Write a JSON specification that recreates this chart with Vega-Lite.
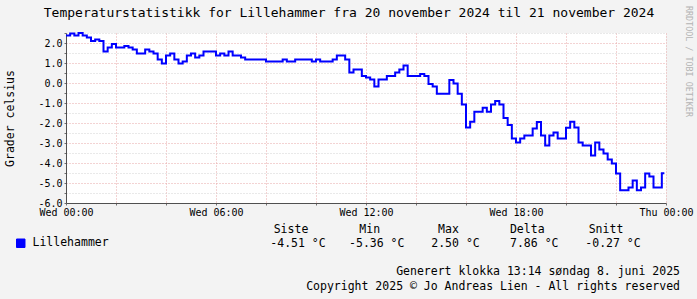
{
  "$schema": "https://vega.github.io/schema/vega-lite/v6.json",
  "background": "#f3f3f3",
  "padding": {"left": 4, "top": 5, "right": 3, "bottom": 7},
  "title": {
    "text": "Temperaturstatistikk for Lillehammer fra 20 november 2024 til 21 november 2024",
    "font": "DejaVu Sans Mono", "fontSize": 13, "fontWeight": "normal", "color": "#000000",
    "anchor": "middle", "offset": -14.5
  },
  "config": {"view": {"stroke": null}},
  "spacing": 6,
  "datasets": {
    "temp": [
      {"t":"2024-11-20T00:00:00Z","v":2.37},{"t":"2024-11-20T00:10:00Z","v":2.47},{"t":"2024-11-20T00:20:00Z","v":2.37},{"t":"2024-11-20T00:30:00Z","v":2.50},{"t":"2024-11-20T00:40:00Z","v":2.37},{"t":"2024-11-20T00:50:00Z","v":2.27},
      {"t":"2024-11-20T01:00:00Z","v":2.10},{"t":"2024-11-20T01:10:00Z","v":2.17},{"t":"2024-11-20T01:20:00Z","v":2.10},{"t":"2024-11-20T01:30:00Z","v":1.58},{"t":"2024-11-20T01:40:00Z","v":1.77},{"t":"2024-11-20T01:50:00Z","v":1.95},
      {"t":"2024-11-20T02:00:00Z","v":1.77},{"t":"2024-11-20T02:10:00Z","v":1.77},{"t":"2024-11-20T02:20:00Z","v":1.85},{"t":"2024-11-20T02:30:00Z","v":1.77},{"t":"2024-11-20T02:40:00Z","v":1.67},{"t":"2024-11-20T02:50:00Z","v":1.47},
      {"t":"2024-11-20T03:00:00Z","v":1.47},{"t":"2024-11-20T03:10:00Z","v":1.67},{"t":"2024-11-20T03:20:00Z","v":1.57},{"t":"2024-11-20T03:30:00Z","v":1.47},{"t":"2024-11-20T03:40:00Z","v":1.18},{"t":"2024-11-20T03:50:00Z","v":0.97},
      {"t":"2024-11-20T04:00:00Z","v":1.38},{"t":"2024-11-20T04:10:00Z","v":1.47},{"t":"2024-11-20T04:20:00Z","v":1.18},{"t":"2024-11-20T04:30:00Z","v":0.97},{"t":"2024-11-20T04:40:00Z","v":1.07},{"t":"2024-11-20T04:50:00Z","v":1.37},
      {"t":"2024-11-20T05:00:00Z","v":1.47},{"t":"2024-11-20T05:10:00Z","v":1.27},{"t":"2024-11-20T05:20:00Z","v":1.37},{"t":"2024-11-20T05:30:00Z","v":1.57},{"t":"2024-11-20T05:40:00Z","v":1.57},{"t":"2024-11-20T05:50:00Z","v":1.57},
      {"t":"2024-11-20T06:00:00Z","v":1.37},{"t":"2024-11-20T06:10:00Z","v":1.47},{"t":"2024-11-20T06:20:00Z","v":1.37},{"t":"2024-11-20T06:30:00Z","v":1.57},{"t":"2024-11-20T06:40:00Z","v":1.37},{"t":"2024-11-20T06:50:00Z","v":1.37},
      {"t":"2024-11-20T07:00:00Z","v":1.27},{"t":"2024-11-20T07:10:00Z","v":1.17},{"t":"2024-11-20T07:20:00Z","v":1.17},{"t":"2024-11-20T07:30:00Z","v":1.17},{"t":"2024-11-20T07:40:00Z","v":1.17},{"t":"2024-11-20T07:50:00Z","v":1.17},
      {"t":"2024-11-20T08:00:00Z","v":1.07},{"t":"2024-11-20T08:10:00Z","v":1.07},{"t":"2024-11-20T08:20:00Z","v":1.07},{"t":"2024-11-20T08:30:00Z","v":1.07},{"t":"2024-11-20T08:40:00Z","v":1.17},{"t":"2024-11-20T08:50:00Z","v":1.07},
      {"t":"2024-11-20T09:00:00Z","v":1.07},{"t":"2024-11-20T09:10:00Z","v":1.17},{"t":"2024-11-20T09:20:00Z","v":1.17},{"t":"2024-11-20T09:30:00Z","v":1.17},{"t":"2024-11-20T09:40:00Z","v":1.17},{"t":"2024-11-20T09:50:00Z","v":1.07},
      {"t":"2024-11-20T10:00:00Z","v":1.17},{"t":"2024-11-20T10:10:00Z","v":1.07},{"t":"2024-11-20T10:20:00Z","v":1.07},{"t":"2024-11-20T10:30:00Z","v":1.07},{"t":"2024-11-20T10:40:00Z","v":1.17},{"t":"2024-11-20T10:50:00Z","v":1.37},
      {"t":"2024-11-20T11:00:00Z","v":1.37},{"t":"2024-11-20T11:10:00Z","v":1.17},{"t":"2024-11-20T11:20:00Z","v":0.53},{"t":"2024-11-20T11:30:00Z","v":0.67},{"t":"2024-11-20T11:40:00Z","v":0.67},{"t":"2024-11-20T11:50:00Z","v":0.35},
      {"t":"2024-11-20T12:00:00Z","v":0.27},{"t":"2024-11-20T12:10:00Z","v":0.17},{"t":"2024-11-20T12:20:00Z","v":-0.18},{"t":"2024-11-20T12:30:00Z","v":0.17},{"t":"2024-11-20T12:40:00Z","v":0.17},{"t":"2024-11-20T12:50:00Z","v":0.35},
      {"t":"2024-11-20T13:00:00Z","v":0.35},{"t":"2024-11-20T13:10:00Z","v":0.53},{"t":"2024-11-20T13:20:00Z","v":0.67},{"t":"2024-11-20T13:30:00Z","v":0.87},{"t":"2024-11-20T13:40:00Z","v":0.35},{"t":"2024-11-20T13:50:00Z","v":0.35},
      {"t":"2024-11-20T14:00:00Z","v":0.35},{"t":"2024-11-20T14:10:00Z","v":0.45},{"t":"2024-11-20T14:20:00Z","v":0.35},{"t":"2024-11-20T14:30:00Z","v":-0.05},{"t":"2024-11-20T14:40:00Z","v":-0.18},{"t":"2024-11-20T14:50:00Z","v":-0.54},
      {"t":"2024-11-20T15:00:00Z","v":-0.54},{"t":"2024-11-20T15:10:00Z","v":-0.54},{"t":"2024-11-20T15:20:00Z","v":0.15},{"t":"2024-11-20T15:30:00Z","v":-0.03},{"t":"2024-11-20T15:40:00Z","v":-0.54},{"t":"2024-11-20T15:50:00Z","v":-1.08},
      {"t":"2024-11-20T16:00:00Z","v":-2.22},{"t":"2024-11-20T16:10:00Z","v":-1.94},{"t":"2024-11-20T16:20:00Z","v":-1.44},{"t":"2024-11-20T16:30:00Z","v":-1.44},{"t":"2024-11-20T16:40:00Z","v":-1.24},{"t":"2024-11-20T16:50:00Z","v":-1.44},
      {"t":"2024-11-20T17:00:00Z","v":-1.07},{"t":"2024-11-20T17:10:00Z","v":-0.90},{"t":"2024-11-20T17:20:00Z","v":-1.07},{"t":"2024-11-20T17:30:00Z","v":-1.75},{"t":"2024-11-20T17:40:00Z","v":-2.10},{"t":"2024-11-20T17:50:00Z","v":-2.78},
      {"t":"2024-11-20T18:00:00Z","v":-2.98},{"t":"2024-11-20T18:10:00Z","v":-2.78},{"t":"2024-11-20T18:20:00Z","v":-2.63},{"t":"2024-11-20T18:30:00Z","v":-2.63},{"t":"2024-11-20T18:40:00Z","v":-2.27},{"t":"2024-11-20T18:50:00Z","v":-1.95},
      {"t":"2024-11-20T19:00:00Z","v":-2.63},{"t":"2024-11-20T19:10:00Z","v":-3.13},{"t":"2024-11-20T19:20:00Z","v":-2.63},{"t":"2024-11-20T19:30:00Z","v":-2.48},{"t":"2024-11-20T19:40:00Z","v":-2.78},{"t":"2024-11-20T19:50:00Z","v":-2.78},
      {"t":"2024-11-20T20:00:00Z","v":-2.24},{"t":"2024-11-20T20:10:00Z","v":-1.94},{"t":"2024-11-20T20:20:00Z","v":-2.22},{"t":"2024-11-20T20:30:00Z","v":-2.98},{"t":"2024-11-20T20:40:00Z","v":-3.13},{"t":"2024-11-20T20:50:00Z","v":-3.13},
      {"t":"2024-11-20T21:00:00Z","v":-3.62},{"t":"2024-11-20T21:10:00Z","v":-2.98},{"t":"2024-11-20T21:20:00Z","v":-3.32},{"t":"2024-11-20T21:30:00Z","v":-3.52},{"t":"2024-11-20T21:40:00Z","v":-3.82},{"t":"2024-11-20T21:50:00Z","v":-4.02},
      {"t":"2024-11-20T22:00:00Z","v":-4.52},{"t":"2024-11-20T22:10:00Z","v":-5.36},{"t":"2024-11-20T22:20:00Z","v":-5.36},{"t":"2024-11-20T22:30:00Z","v":-5.22},{"t":"2024-11-20T22:40:00Z","v":-4.88},{"t":"2024-11-20T22:50:00Z","v":-5.36},
      {"t":"2024-11-20T23:00:00Z","v":-5.22},{"t":"2024-11-20T23:10:00Z","v":-4.52},{"t":"2024-11-20T23:20:00Z","v":-4.68},{"t":"2024-11-20T23:30:00Z","v":-5.22},{"t":"2024-11-20T23:40:00Z","v":-5.22},{"t":"2024-11-20T23:50:00Z","v":-4.51},
      {"t":"2024-11-20T23:56:00Z","v":-4.51}
    ],
    "stats": [
      {"stat":"Siste","value":"-4.51 °C"},
      {"stat":"Min","value":"-5.36 °C"},
      {"stat":"Max","value":"2.50 °C"},
      {"stat":"Delta","value":"7.86 °C"},
      {"stat":"Snitt","value":"-0.27 °C"}
    ]
  },
  "vconcat": [
    {
      "width": 600,
      "height": 170,
      "view": {"fill": "#ffffff", "stroke": null},
      "resolve": {"scale": {"y": "independent"}},
      "layer": [
        {
          "mark": {"type": "rule", "color": "#000000", "strokeWidth": 1},
          "encoding": {
            "y": {
              "datum": 0, "type": "quantitative",
              "scale": {"domain": [-6, 2.5], "nice": false, "zero": false},
              "axis": {
                "orient": "right", "title": "RRDTOOL / TOBI OETIKER",
                "labels": false, "ticks": false, "domain": false, "grid": false,
                "titleAngle": 90, "titleFont": "DejaVu Sans Mono", "titleFontSize": 8.4,
                "titleFontWeight": "normal", "titleColor": "#b4b4b4",
                "titleX": 22, "titleY": 28, "titleAlign": "center", "titleBaseline": "middle"
              }
            }
          }
        },
        {
          "data": {"name": "temp"},
          "mark": {"type": "line", "interpolate": "step-after", "strokeWidth": 2},
          "encoding": {
            "x": {
              "field": "t", "type": "temporal",
              "scale": {"type": "utc", "domain": [1732060800000, 1732147200000], "nice": false},
              "axis": {
                "orient": "bottom", "title": null,
                "values": [1732060800000,1732062600000,1732064400000,1732066200000,1732068000000,1732069800000,1732071600000,1732073400000,1732075200000,1732077000000,1732078800000,1732080600000,1732082400000,1732084200000,1732086000000,1732087800000,1732089600000,1732091400000,1732093200000,1732095000000,1732096800000,1732098600000,1732100400000,1732102200000,1732104000000,1732105800000,1732107600000,1732109400000,1732111200000,1732113000000,1732114800000,1732116600000,1732118400000,1732120200000,1732122000000,1732123800000,1732125600000,1732127400000,1732129200000,1732131000000,1732132800000,1732134600000,1732136400000,1732138200000,1732140000000,1732141800000,1732143600000,1732145400000,1732147200000],
                "labelExpr": "utcminutes(datum.value) === 0 && utchours(datum.value) % 6 === 0 ? utcFormat(datum.value, '%a %H:%M') : ''",
                "labelOverlap": false, "labelFlush": false,
                "labelFont": "DejaVu Sans Mono", "labelFontSize": 10, "labelColor": "#000000", "labelPadding": 2,
                "tickSize": 2, "tickColor": "#707070",
                "domainColor": "#505050",
                "grid": true,
                "gridDash": [1, 2],
                "gridColor": {"condition": {"test": "utcminutes(datum.value) === 0 && utchours(datum.value) % 2 === 0", "value": "#e6a6a6"}, "value": "#d2d2d2"}
              }
            },
            "y": {
              "field": "v", "type": "quantitative",
              "scale": {"domain": [-6, 2.5], "nice": false, "zero": false},
              "axis": {
                "orient": "left", "title": "Grader celsius",
                "titleFont": "DejaVu Sans Mono", "titleFontSize": 11.5, "titleFontWeight": "normal", "titleColor": "#000000", "titlePadding": 22,
                "values": [-6, -5.5, -5, -4.5, -4, -3.5, -3, -2.5, -2, -1.5, -1, -0.5, 0, 0.5, 1, 1.5, 2, 2.5],
                "labelExpr": "datum.value % 1 === 0 ? (datum.value < 0 ? '-' : '') + format(abs(datum.value), '.1f') : ''",
                "labelFont": "DejaVu Sans Mono", "labelFontSize": 10, "labelColor": "#000000", "labelPadding": 2,
                "tickSize": 2, "tickColor": "#707070",
                "domainColor": "#505050",
                "grid": true,
                "gridDash": [1, 2],
                "gridColor": {"condition": {"test": "datum.value % 1 === 0", "value": "#e6a6a6"}, "value": "#d2d2d2"}
              }
            },
            "color": {
              "datum": "Lillehammer",
              "scale": {"range": ["#0000ff"]},
              "legend": {
                "orient": "none", "legendX": -51, "legendY": 204.5, "title": null,
                "symbolType": "square", "symbolSize": 72, "labelOffset": 6,
                "labelFont": "DejaVu Sans Mono", "labelFontSize": 11.5, "labelColor": "#000000",
                "encode": {"symbols": {"update": {"fill": {"value": "#0000ff"}, "stroke": {"value": "#000000"}, "strokeWidth": {"value": 1}}}}
              }
            }
          }
        },
        {
          "mark": {"type": "point", "shape": "triangle-right", "filled": true, "size": 30, "color": "#7f0000", "opacity": 1},
          "encoding": {
            "x": {"datum": 1732147620000, "type": "temporal"},
            "y": {"datum": -6, "type": "quantitative", "scale": {"domain": [-6, 2.5], "nice": false, "zero": false}, "axis": null}
          }
        },
        {
          "mark": {"type": "point", "shape": "triangle-up", "filled": true, "size": 30, "color": "#7f0000", "opacity": 1},
          "encoding": {
            "x": {"datum": 1732060800000, "type": "temporal"},
            "y": {"datum": 2.65, "type": "quantitative", "scale": {"domain": [-6, 2.5], "nice": false, "zero": false}, "axis": null}
          }
        }
      ]
    },
    {
      "width": 614,
      "height": 28,
      "data": {"name": "stats"},
      "title": {
        "text": ["Generert klokka 13:14 søndag 8. juni 2025", "Copyright 2025 © Jo Andreas Lien - All rights reserved"],
        "orient": "bottom", "anchor": "end", "frame": "group",
        "font": "DejaVu Sans Mono", "fontSize": 11.5, "fontWeight": "normal", "color": "#000000",
        "lineHeight": 14.5, "offset": 15
      },
      "encoding": {
        "x": {"field": "stat", "type": "nominal", "sort": null, "scale": {"type": "point", "domain": ["Siste", "Min", "Max", "Delta", "Snitt"], "range": [232, 547], "padding": 0}, "axis": null}
      },
      "layer": [
        {
          "mark": {"type": "text", "font": "DejaVu Sans Mono", "fontSize": 11.5, "color": "#000000", "dx": -7},
          "encoding": {
            "y": {"datum": "header", "type": "nominal", "scale": {"type": "point", "domain": ["header", "value"], "padding": 0.5}, "axis": null},
            "text": {"field": "stat"}
          }
        },
        {
          "mark": {"type": "text", "font": "DejaVu Sans Mono", "fontSize": 11.5, "color": "#000000"},
          "encoding": {
            "y": {"datum": "value", "type": "nominal", "scale": {"type": "point", "domain": ["header", "value"], "padding": 0.5}, "axis": null},
            "text": {"field": "value"}
          }
        }
      ]
    }
  ]
}
